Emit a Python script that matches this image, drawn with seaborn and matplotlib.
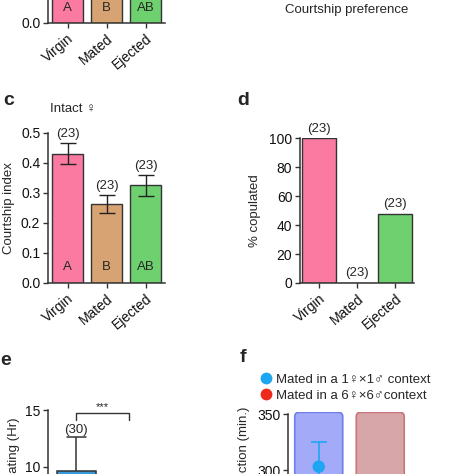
import matplotlib
matplotlib.use("Agg")
import matplotlib.pyplot as plt
import pandas as pd
import seaborn as sns
from matplotlib.lines import Line2D
from matplotlib.patches import FancyBboxPatch

W, H = 474, 474

# groups shared by panels b-d
groups = ["Virgin", "Mated", "Ejected"]
bar_colors = ["#fb7aa2", "#d8a372", "#6fd070"]
letters = ["A", "B", "AB"]

# panel b: only the bottom of the bars is inside the crop
b_index = [0.42, 0.28, 0.33]

# panel c: courtship index, intact females
c_index = [0.430, 0.263, 0.325]
c_sem = [0.035, 0.030, 0.035]
c_n = [23, 23, 23]

# panel d: % copulated
d_copulated = [100, 0, 48]
d_n = [23, 23, 23]

# panel e: five-number summaries (min, q1, median, q3, max)
e_groups = ["1x1", "6x6"]
e_colors = ["#3a9ad9", "#e8463c"]
e_single = [2.0, 5.0, 7.0, 9.65, 12.6]
e_grouped = [1.0, 2.5, 4.0, 6.0, 8.5]
e_n = 30

# panel f
f_labels = ["Mated in a 1\u2640\u00d71\u2642 context", "Mated in a 6\u2640\u00d76\u2642context"]
f_box_top = [351.5, 351.5]
f_mean = [303, 262]
f_err = [22, 22]
f_dot_colors = ["#1ea6f2", "#ee2a1c"]
f_fill = ["#a3aaf8", "#d7a6a8"]
f_edge = ["#6f7fe8", "#c8767b"]

FS = 9.5     # labels and annotations
TFS = 10     # tick labels

sns.set_theme(style="ticks")
plt.rcParams["font.family"] = ["Liberation Sans", "DejaVu Sans"]
plt.rcParams.update({
    "font.size": FS,
    "axes.linewidth": 1.1,
    "axes.edgecolor": "#333333",
    "xtick.color": "#333333",
    "ytick.color": "#333333",
    "xtick.labelcolor": "#111111",
    "ytick.labelcolor": "#111111",
    "xtick.major.size": 3.5,
    "ytick.major.size": 3.5,
    "xtick.major.width": 1.0,
    "ytick.major.width": 1.0,
    "xtick.major.pad": 2.5,
    "ytick.major.pad": 2.0,
    "xtick.labelsize": TFS,
    "ytick.labelsize": TFS,
    "axes.labelsize": FS,
})

fig = plt.figure(figsize=(W / 100, H / 100), dpi=100)


def px_axes(left, right, top, bottom):
    return fig.add_axes([left / W, 1 - bottom / H, (right - left) / W, (bottom - top) / H])


def style_group_axis(ax):
    ax.set_xlim(-0.5, 2.5)
    ax.set_xlabel("")
    ax.set_xticks(range(3))
    ax.set_xticklabels(groups, rotation=40, ha="right", rotation_mode="anchor")
    sns.despine(ax=ax)


# ---- panel b (cropped, only the baseline is visible) ----
ax_b = px_axes(48, 165, 23 - 150, 23)
sns.barplot(x=groups, y=b_index, hue=groups, palette=bar_colors, width=0.82,
            saturation=1, edgecolor="#333333", linewidth=1.0, legend=False, ax=ax_b)
ax_b.set_ylim(0, 0.5)
ax_b.set_yticks([0.0])
ax_b.set_yticklabels(["0.0"])
for i, t in enumerate(letters):
    ax_b.text(i, 0.05, t, ha="center", va="center", fontsize=FS)
style_group_axis(ax_b)

# ---- panel c ----
ax_c = px_axes(48, 165, 133, 283)
sns.barplot(x=groups, y=c_index, hue=groups, palette=bar_colors, width=0.82,
            saturation=1, edgecolor="#333333", linewidth=1.0, legend=False, ax=ax_c)
ax_c.errorbar(range(3), c_index, yerr=c_sem, fmt="none", ecolor="#222222",
              elinewidth=1.0, capsize=5.5, capthick=1.0)
for i, (m, e, n) in enumerate(zip(c_index, c_sem, c_n)):
    ax_c.text(i, m + e + 0.01, f"({n})", ha="center", va="bottom", fontsize=FS)
for i, t in enumerate(letters):
    ax_c.text(i, 0.055, t, ha="center", va="center", fontsize=FS)
ax_c.set_ylim(0, 0.5)
ax_c.set_yticks([0.0, 0.1, 0.2, 0.3, 0.4, 0.5])
ax_c.set_yticklabels([f"{v:.1f}" for v in ax_c.get_yticks()])
ax_c.set_ylabel("Courtship index", labelpad=4)
ax_c.text(0.21, 1.12, "Intact \u2640", transform=ax_c.transAxes, ha="center",
          va="bottom", fontsize=FS)
style_group_axis(ax_c)

# ---- panel d ----
ax_d = px_axes(300, 414, 138.3, 283)
sns.barplot(x=groups, y=d_copulated, hue=groups, palette=bar_colors, width=0.87,
            saturation=1, edgecolor="#333333", linewidth=1.0, legend=False, ax=ax_d)
for i, (v, n) in enumerate(zip(d_copulated, d_n)):
    ax_d.text(i, v + 2.5, f"({n})", ha="center", va="bottom", fontsize=FS)
ax_d.set_ylim(0, 100)
ax_d.set_yticks([0, 20, 40, 60, 80, 100])
ax_d.set_ylabel("% copulated", labelpad=6)
style_group_axis(ax_d)

# ---- panel e ----
ax_e = px_axes(48, 157, 410, 580)
df_e = pd.DataFrame({
    "group": [e_groups[0]] * len(e_single) + [e_groups[1]] * len(e_grouped),
    "hours": e_single + e_grouped,
})
sns.boxplot(data=df_e, x="group", y="hours", hue="group", order=e_groups,
            palette=e_colors, saturation=1, width=0.74, linecolor="#333333",
            linewidth=1.1, legend=False, ax=ax_e)
ax_e.set_xlim(-0.54, 1.54)
ax_e.set_ylim(0, 15)
ax_e.set_yticks([0, 5, 10, 15])
ax_e.set_xlabel("")
ax_e.set_xticks([])
ax_e.text(0, e_single[-1] + 0.15, f"({e_n})", ha="center", va="bottom", fontsize=FS)
ax_e.plot([0, 0, 1, 1], [14.1, 14.7, 14.7, 14.1], color="#333333", lw=1.0)
ax_e.text(0.5, 14.85, "***", ha="center", va="bottom", fontsize=8)
ax_e.set_ylabel("Time to first mating (Hr)", ha="right")
ax_e.yaxis.set_label_coords((20 - 48) / 109, (580 - 417) / 170)
sns.despine(ax=ax_e)

# ---- panel f ----
ax_f = px_axes(288, 411, 411.8, 638)
sns.barplot(x=[0, 1], y=f_box_top, hue=[0, 1], palette=f_fill, width=0.78,
            native_scale=True, legend=False, ax=ax_f)
ax_f.set_xlim(-0.5, 1.5)
ax_f.set_ylim(150, 352)
for k, p in enumerate(list(ax_f.patches)):
    x0, y0 = p.get_x(), p.get_y()
    w, h = p.get_width(), p.get_height()
    p.remove()
    ax_f.add_patch(FancyBboxPatch((x0, y0), w, h,
                                  boxstyle="round,pad=0,rounding_size=0.07",
                                  mutation_aspect=(1 / 1.12) / (1 / 61.5),
                                  facecolor=f_fill[k], edgecolor=f_edge[k],
                                  linewidth=1.2, zorder=1))
for k in range(2):
    ax_f.errorbar([k], [f_mean[k]], yerr=[f_err[k]], fmt="none",
                  ecolor=f_dot_colors[k], elinewidth=1.2, capsize=5.5,
                  capthick=1.2, zorder=2)
sns.scatterplot(x=[0, 1], y=f_mean, hue=f_labels, palette=f_dot_colors, s=80,
                edgecolor="none", legend=False, ax=ax_f, zorder=3)
ax_f.spines["left"].set_bounds(150, 350)
ax_f.set_yticks([150, 200, 250, 300, 350])
ax_f.set_xticks([])
ax_f.set_ylabel("Time to ejection (min.)", ha="right")
ax_f.yaxis.set_label_coords((250 - 288) / 123, (638 - 407) / 226.2)
handles = [Line2D([0], [0], marker="o", ls="none", markersize=8.5,
                  markerfacecolor=c, markeredgecolor="none") for c in f_dot_colors]
fig.legend(handles, f_labels, loc="upper left", bbox_to_anchor=(255 / W, 1 - 367 / H),
           frameon=False, borderpad=0, handlelength=0.6, handletextpad=0.5,
           labelspacing=0.3, fontsize=FS)
sns.despine(ax=ax_f)

# ---- text outside axes ----
fig.text(347 / W, 1 - 10 / H, "Courtship preference", ha="center", va="center", fontsize=FS)
for x, y, s in [(3, 105, "c"), (237, 105, "d"), (0, 365, "e"), (240, 362, "f")]:
    fig.text(x / W, 1 - y / H, s, ha="left", va="baseline", fontsize=14, fontweight="bold")

fig.savefig("out.png", dpi=100)
